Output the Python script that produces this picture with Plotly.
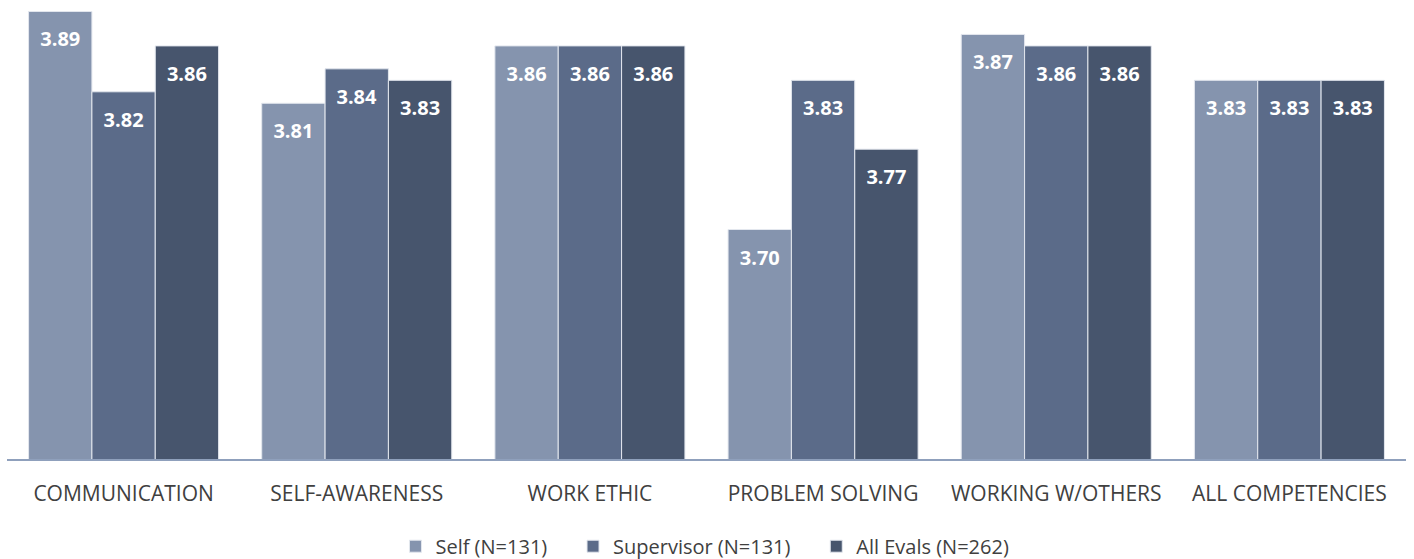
import plotly.graph_objects as go

categories = ["COMMUNICATION", "SELF-AWARENESS", "WORK ETHIC", "PROBLEM SOLVING",
              "WORKING W/OTHERS", "ALL COMPETENCIES"]
self_vals = [3.89, 3.81, 3.86, 3.70, 3.87, 3.83]
supervisor_vals = [3.82, 3.84, 3.86, 3.83, 3.86, 3.83]
all_vals = [3.86, 3.83, 3.86, 3.77, 3.86, 3.83]
series_names = ["Self (N=131)", "Supervisor (N=131)", "All Evals (N=262)"]
colors = ["#8594AE", "#5B6B89", "#47556D"]

FONT = "Open Sans"
PAD = "\u00a0" * 4
fig = go.Figure()
for name, vals, col in zip(series_names, [self_vals, supervisor_vals, all_vals], colors):
    fig.add_trace(go.Bar(
        x=categories, y=vals, name=name + PAD,
        marker=dict(color=col, line=dict(color="#E3E7EE", width=1)),
        text=[f"{v:.2f}" for v in vals],
        texttemplate="<span style='font-size:6px'>\u00a0</span><br>%{text}",
        textposition="inside", insidetextanchor="end",
        textfont=dict(family=FONT, size=20, color="white", weight="bold"),
        textangle=0,
    ))

fig.update_layout(
    barmode="group", bargap=0.185, bargroupgap=0,
    width=1414, height=559,
    margin=dict(l=7, r=8, t=0, b=100, autoexpand=False),
    paper_bgcolor="white", plot_bgcolor="white",
    font=dict(family=FONT, color="#404040", size=20),
    showlegend=True,
    legend=dict(orientation="h", x=0.5064, xanchor="center", y=-0.19, yanchor="middle",
                font=dict(family=FONT, size=20, color="#404040"),
                itemwidth=30, traceorder="normal"),
    xaxis=dict(showline=True, linecolor="#8FA0BC", linewidth=2, ticks="",
               tickfont=dict(family=FONT, size=21, color="#404040"),
               ticklabelstandoff=15, automargin=False),
    yaxis=dict(range=[3.5, 3.9], visible=False, showgrid=False),
)
fig.write_html("out.html")
